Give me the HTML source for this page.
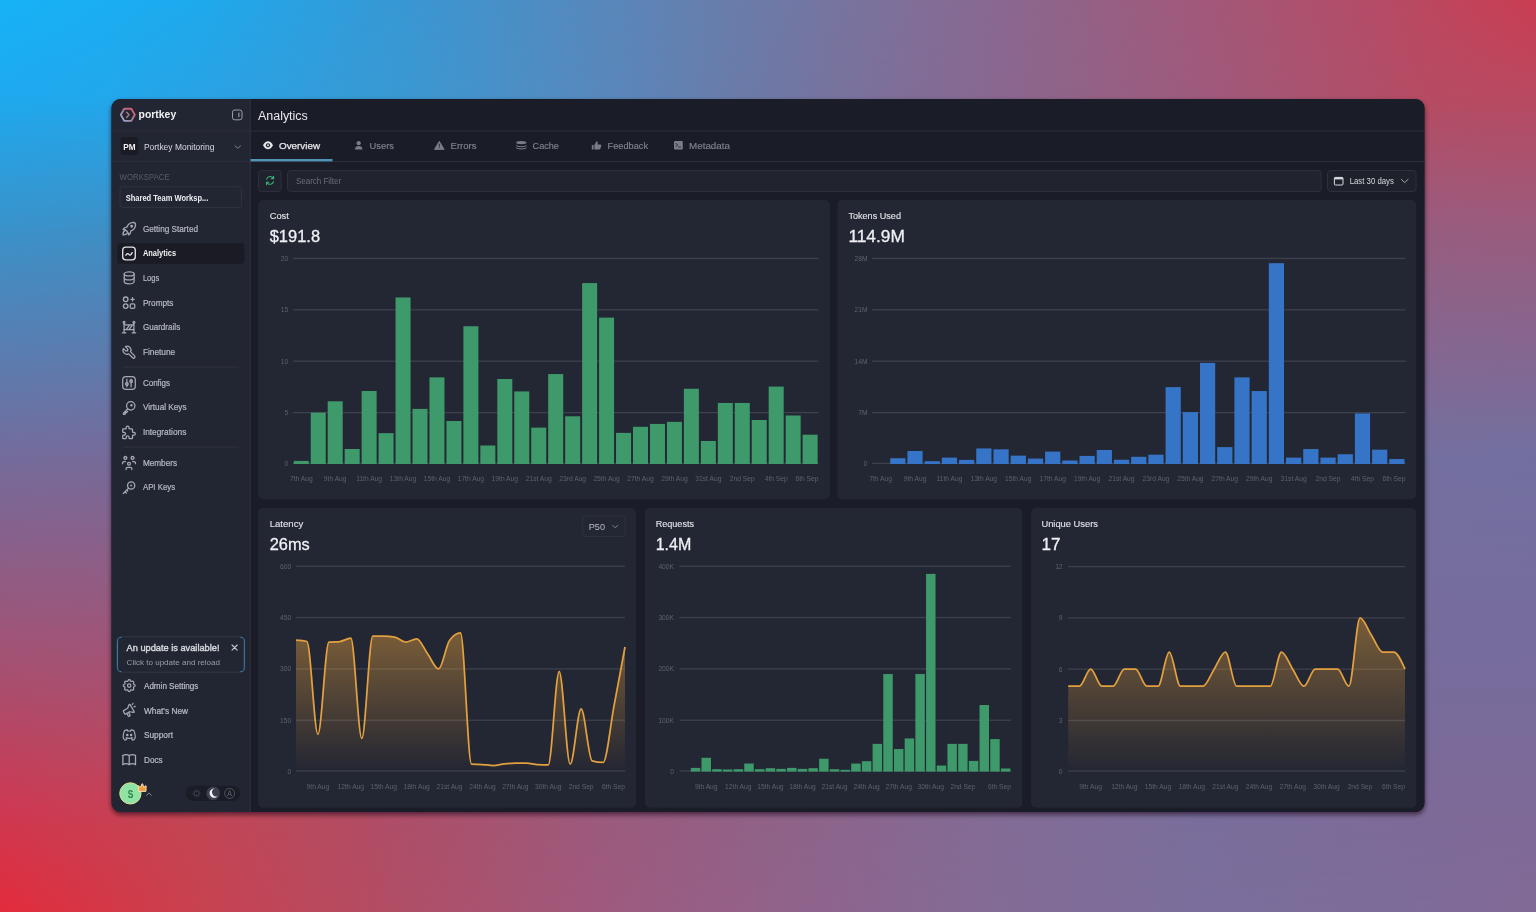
<!DOCTYPE html>
<html><head><meta charset="utf-8"><title>Portkey Analytics</title><style>html,body{margin:0;padding:0;width:1536px;height:912px;overflow:hidden;background:#1b1c26;}svg text{font-family:"Liberation Sans",sans-serif;}</style></head><body>
<svg width="1536" height="912" viewBox="0 0 1536 912" style="display:block;will-change:transform;font-family:'Liberation Sans', sans-serif"><defs><linearGradient id="bgr0" x1="0" y1="0" x2="1536" y2="0" gradientUnits="userSpaceOnUse"><stop offset="0.0000" stop-color="#17b3f6"/><stop offset="0.1302" stop-color="#1eaaee"/><stop offset="0.2604" stop-color="#3898d4"/><stop offset="0.3906" stop-color="#5888bc"/><stop offset="0.5000" stop-color="#6e7aa6"/><stop offset="0.5859" stop-color="#7f709a"/><stop offset="0.6510" stop-color="#8a6890"/><stop offset="0.7812" stop-color="#a2597a"/><stop offset="0.9115" stop-color="#b84a64"/><stop offset="1.0000" stop-color="#cb3d51"/></linearGradient><linearGradient id="bgr1" x1="0" y1="0" x2="1536" y2="0" gradientUnits="userSpaceOnUse"><stop offset="0.0000" stop-color="#1fa9ee"/><stop offset="0.0723" stop-color="#22a7ec"/><stop offset="0.2604" stop-color="#3a98d2"/><stop offset="0.3906" stop-color="#5888bc"/><stop offset="0.5000" stop-color="#6e78a4"/><stop offset="0.5859" stop-color="#7f6e98"/><stop offset="0.7812" stop-color="#9e5a7c"/><stop offset="0.9277" stop-color="#b64b63"/><stop offset="1.0000" stop-color="#b84a62"/></linearGradient><linearGradient id="bgm1" x1="0" y1="0" x2="0" y2="100" gradientUnits="userSpaceOnUse"><stop offset="0" stop-color="#000"/><stop offset="1" stop-color="#fff"/></linearGradient><mask id="bgmask1" maskUnits="userSpaceOnUse" x="0" y="0" width="1536" height="912"><rect x="0" y="0" width="1536" height="912" fill="url(#bgm1)"/></mask><linearGradient id="bgr2" x1="0" y1="0" x2="1536" y2="0" gradientUnits="userSpaceOnUse"><stop offset="0.0000" stop-color="#3a92ca"/><stop offset="0.0723" stop-color="#3e90c6"/><stop offset="0.5000" stop-color="#7e6a98"/><stop offset="0.9277" stop-color="#985d7f"/><stop offset="1.0000" stop-color="#9a5c7e"/></linearGradient><linearGradient id="bgm2" x1="0" y1="100" x2="0" y2="228" gradientUnits="userSpaceOnUse"><stop offset="0" stop-color="#000"/><stop offset="1" stop-color="#fff"/></linearGradient><mask id="bgmask2" maskUnits="userSpaceOnUse" x="0" y="0" width="1536" height="912"><rect x="0" y="0" width="1536" height="912" fill="url(#bgm2)"/></mask><linearGradient id="bgr3" x1="0" y1="0" x2="1536" y2="0" gradientUnits="userSpaceOnUse"><stop offset="0.0000" stop-color="#746c9c"/><stop offset="0.0723" stop-color="#766b9a"/><stop offset="0.5000" stop-color="#8a6490"/><stop offset="0.9277" stop-color="#7470a0"/><stop offset="1.0000" stop-color="#7270a0"/></linearGradient><linearGradient id="bgm3" x1="0" y1="228" x2="0" y2="456" gradientUnits="userSpaceOnUse"><stop offset="0" stop-color="#000"/><stop offset="1" stop-color="#fff"/></linearGradient><mask id="bgmask3" maskUnits="userSpaceOnUse" x="0" y="0" width="1536" height="912"><rect x="0" y="0" width="1536" height="912" fill="url(#bgm3)"/></mask><linearGradient id="bgr4" x1="0" y1="0" x2="1536" y2="0" gradientUnits="userSpaceOnUse"><stop offset="0.0000" stop-color="#aa4e6e"/><stop offset="0.0723" stop-color="#a85070"/><stop offset="0.5000" stop-color="#8e6088"/><stop offset="0.9277" stop-color="#786c9c"/><stop offset="1.0000" stop-color="#786c9c"/></linearGradient><linearGradient id="bgm4" x1="0" y1="456" x2="0" y2="684" gradientUnits="userSpaceOnUse"><stop offset="0" stop-color="#000"/><stop offset="1" stop-color="#fff"/></linearGradient><mask id="bgmask4" maskUnits="userSpaceOnUse" x="0" y="0" width="1536" height="912"><rect x="0" y="0" width="1536" height="912" fill="url(#bgm4)"/></mask><linearGradient id="bgr5" x1="0" y1="0" x2="1536" y2="0" gradientUnits="userSpaceOnUse"><stop offset="0.0000" stop-color="#cf3852"/><stop offset="0.1302" stop-color="#c24654"/><stop offset="0.2604" stop-color="#ae4e68"/><stop offset="0.3906" stop-color="#9c5a7c"/><stop offset="0.5000" stop-color="#906288"/><stop offset="0.6510" stop-color="#826c96"/><stop offset="0.7812" stop-color="#7a6e9c"/><stop offset="0.9277" stop-color="#7e6a98"/><stop offset="1.0000" stop-color="#7e6a98"/></linearGradient><linearGradient id="bgm5" x1="0" y1="684" x2="0" y2="812" gradientUnits="userSpaceOnUse"><stop offset="0" stop-color="#000"/><stop offset="1" stop-color="#fff"/></linearGradient><mask id="bgmask5" maskUnits="userSpaceOnUse" x="0" y="0" width="1536" height="912"><rect x="0" y="0" width="1536" height="912" fill="url(#bgm5)"/></mask><linearGradient id="bgr6" x1="0" y1="0" x2="1536" y2="0" gradientUnits="userSpaceOnUse"><stop offset="0.0000" stop-color="#e22c3b"/><stop offset="0.1302" stop-color="#c84250"/><stop offset="0.2604" stop-color="#b04e66"/><stop offset="0.3906" stop-color="#9e5a7e"/><stop offset="0.5000" stop-color="#92628a"/><stop offset="0.5859" stop-color="#886890"/><stop offset="0.6510" stop-color="#836c96"/><stop offset="0.7812" stop-color="#7b6e9c"/><stop offset="0.9115" stop-color="#7d6c9a"/><stop offset="1.0000" stop-color="#836a96"/></linearGradient><linearGradient id="bgm6" x1="0" y1="812" x2="0" y2="912" gradientUnits="userSpaceOnUse"><stop offset="0" stop-color="#000"/><stop offset="1" stop-color="#fff"/></linearGradient><mask id="bgmask6" maskUnits="userSpaceOnUse" x="0" y="0" width="1536" height="912"><rect x="0" y="0" width="1536" height="912" fill="url(#bgm6)"/></mask><filter id="shadow" x="-5%" y="-5%" width="110%" height="115%"><feDropShadow dx="0" dy="2.5" stdDeviation="2.6" flood-color="#0a0510" flood-opacity="0.62"/></filter><clipPath id="winclip"><rect x="111.5" y="99.0" width="1313.0" height="713.0" rx="9"/></clipPath><linearGradient id="logog" x1="0" y1="1" x2="1" y2="0"><stop offset="0" stop-color="#8fb0e0"/><stop offset="0.5" stop-color="#b07a98"/><stop offset="1" stop-color="#d8545e"/></linearGradient><linearGradient id="latg" x1="0" y1="0" x2="0" y2="1"><stop offset="0" stop-color="#e6a23e" stop-opacity="0.44"/><stop offset="1" stop-color="#e6a23e" stop-opacity="0"/></linearGradient><linearGradient id="usrg" x1="0" y1="0" x2="0" y2="1"><stop offset="0" stop-color="#e6a23e" stop-opacity="0.44"/><stop offset="1" stop-color="#e6a23e" stop-opacity="0"/></linearGradient></defs><rect x="0" y="0" width="1536" height="912" fill="url(#bgr0)"/>
<rect x="0" y="0" width="1536" height="912" fill="url(#bgr1)" mask="url(#bgmask1)"/>
<rect x="0" y="0" width="1536" height="912" fill="url(#bgr2)" mask="url(#bgmask2)"/>
<rect x="0" y="0" width="1536" height="912" fill="url(#bgr3)" mask="url(#bgmask3)"/>
<rect x="0" y="0" width="1536" height="912" fill="url(#bgr4)" mask="url(#bgmask4)"/>
<rect x="0" y="0" width="1536" height="912" fill="url(#bgr5)" mask="url(#bgmask5)"/>
<rect x="0" y="0" width="1536" height="912" fill="url(#bgr6)" mask="url(#bgmask6)"/>
<rect x="111.5" y="99.0" width="1313.0" height="713.0" rx="9" fill="#1b1c26" filter="url(#shadow)"/>
<g clip-path="url(#winclip)">
<rect x="111.5" y="99.0" width="138.5" height="713.0" fill="#222633"/>
<rect x="249.6" y="99.0" width="1.7" height="713.0" fill="#2a2d39"/>
<rect x="251" y="99.0" width="1173.5" height="713.0" fill="#1a1c27"/>
<rect x="111.5" y="130.5" width="1313.0" height="1" fill="#2c2f3b"/>
<rect x="111.5" y="161" width="1313.0" height="1" fill="#2c2f3b"/>
</g>
<polygon points="134.80,114.80 131.30,120.86 124.30,120.86 120.80,114.80 124.30,108.74 131.30,108.74" fill="none" stroke="url(#logog)" stroke-width="1.9" stroke-linejoin="round"/>
<path d="M126.6,112.2 L129.1,114.8 L126.6,117.4" fill="none" stroke="#a87488" stroke-width="1.5" stroke-linecap="round" stroke-linejoin="round"/>
<text x="138.60" y="118.20" font-size="10.80" fill="#f2f2f4" font-weight="bold" text-anchor="start" textLength="37.60" lengthAdjust="spacingAndGlyphs" >portkey</text>
<rect x="232.5" y="110" width="9.5" height="9.8" rx="2.2" fill="none" stroke="#9da0aa" stroke-width="1"/>
<rect x="238.3" y="112.6" width="1.1" height="4.6" fill="#9da0aa"/>
<text x="258.00" y="120.00" font-size="12.50" fill="#e8e9ec" font-weight="normal" text-anchor="start" textLength="49.80" lengthAdjust="spacingAndGlyphs" >Analytics</text>
<rect x="120.6" y="137" width="17.6" height="18" rx="3" fill="#1a1b24"/>
<text x="129.40" y="150.10" font-size="8.30" fill="#f0f0f2" font-weight="bold" text-anchor="middle" textLength="12.30" lengthAdjust="spacingAndGlyphs" >PM</text>
<text x="143.90" y="150.10" font-size="8.50" fill="#d8dae0" font-weight="normal" text-anchor="start" textLength="70.50" lengthAdjust="spacingAndGlyphs" >Portkey Monitoring</text>
<path d="M234.8,145.6 L237.8,148.3 L240.8,145.6" fill="none" stroke="#8d909a" stroke-width="0.9"/>
<text x="119.60" y="180.30" font-size="8.60" fill="#585c68" font-weight="normal" text-anchor="start" textLength="50.10" lengthAdjust="spacingAndGlyphs" >WORKSPACE</text>
<rect x="120" y="186.8" width="121.5" height="20.6" rx="2.5" fill="none" stroke="#30333f" stroke-width="1"/>
<text x="125.70" y="200.80" font-size="8.60" fill="#eceef2" font-weight="bold" text-anchor="start" textLength="82.60" lengthAdjust="spacingAndGlyphs" >Shared Team Worksp...</text>
<rect x="117.2" y="243" width="127.3" height="20.7" rx="3" fill="#1a1b25"/>
<text x="142.90" y="231.50" font-size="8.70" fill="#b4b7bf" font-weight="normal" text-anchor="start" textLength="55.10" lengthAdjust="spacingAndGlyphs" stroke="#b4b7bf" stroke-width="0.22">Getting Started</text>
<text x="142.90" y="256.20" font-size="8.70" fill="#f2f3f5" font-weight="bold" text-anchor="start" textLength="33.20" lengthAdjust="spacingAndGlyphs" >Analytics</text>
<text x="142.90" y="280.90" font-size="8.70" fill="#b4b7bf" font-weight="normal" text-anchor="start" textLength="16.30" lengthAdjust="spacingAndGlyphs" stroke="#b4b7bf" stroke-width="0.22">Logs</text>
<text x="142.90" y="305.60" font-size="8.70" fill="#b4b7bf" font-weight="normal" text-anchor="start" textLength="30.60" lengthAdjust="spacingAndGlyphs" stroke="#b4b7bf" stroke-width="0.22">Prompts</text>
<text x="142.90" y="330.20" font-size="8.70" fill="#b4b7bf" font-weight="normal" text-anchor="start" textLength="37.30" lengthAdjust="spacingAndGlyphs" stroke="#b4b7bf" stroke-width="0.22">Guardrails</text>
<text x="142.90" y="354.80" font-size="8.70" fill="#b4b7bf" font-weight="normal" text-anchor="start" textLength="32.20" lengthAdjust="spacingAndGlyphs" stroke="#b4b7bf" stroke-width="0.22">Finetune</text>
<text x="142.90" y="385.70" font-size="8.70" fill="#b4b7bf" font-weight="normal" text-anchor="start" textLength="27.20" lengthAdjust="spacingAndGlyphs" stroke="#b4b7bf" stroke-width="0.22">Configs</text>
<text x="142.90" y="410.30" font-size="8.70" fill="#b4b7bf" font-weight="normal" text-anchor="start" textLength="43.70" lengthAdjust="spacingAndGlyphs" stroke="#b4b7bf" stroke-width="0.22">Virtual Keys</text>
<text x="142.90" y="435.00" font-size="8.70" fill="#b4b7bf" font-weight="normal" text-anchor="start" textLength="43.40" lengthAdjust="spacingAndGlyphs" stroke="#b4b7bf" stroke-width="0.22">Integrations</text>
<text x="142.90" y="465.60" font-size="8.70" fill="#b4b7bf" font-weight="normal" text-anchor="start" textLength="34.20" lengthAdjust="spacingAndGlyphs" stroke="#b4b7bf" stroke-width="0.22">Members</text>
<text x="142.90" y="490.30" font-size="8.70" fill="#b4b7bf" font-weight="normal" text-anchor="start" textLength="32.30" lengthAdjust="spacingAndGlyphs" stroke="#b4b7bf" stroke-width="0.22">API Keys</text>
<rect x="122.7" y="366.5" width="116.2" height="1" fill="#30333e"/>
<rect x="122.7" y="446.5" width="116.2" height="1" fill="#30333e"/>
<g transform="translate(129.30,228.60) rotate(0.0) scale(0.780) translate(-12,-12)" fill="none" stroke="#a6a9b2" stroke-width="1.70" stroke-linecap="round" stroke-linejoin="round"><path d="M4 13a8 8 0 0 1 7 7a6 6 0 0 0 3 -5a9 9 0 0 0 6 -8a3 3 0 0 0 -3 -3a9 9 0 0 0 -8 6a6 6 0 0 0 -5 3"/><path d="M7 14a6 6 0 0 0 -3 6a6 6 0 0 0 6 -3"/><circle cx="15" cy="9" r="1"/></g>
<g transform="translate(129.00,253.50) rotate(0.0) scale(0.700) translate(-12,-12)" fill="none" stroke="#e2e3e7" stroke-width="1.90" stroke-linecap="round" stroke-linejoin="round"><rect x="3" y="3" width="18" height="18" rx="4.5"/><path d="M7.5 14.5c1.6 -3 3 -3 4.4 -1.2c1.4 1.8 2.6 1.4 4.6 -2.6"/></g>
<g transform="translate(129.20,277.90) rotate(0.0) scale(0.660) translate(-12,-12)" fill="none" stroke="#a6a9b2" stroke-width="1.90" stroke-linecap="round" stroke-linejoin="round"><ellipse cx="12" cy="6" rx="7.5" ry="3"/><path d="M4.5 6v6a7.5 3 0 0 0 15 0v-6"/><path d="M4.5 12v6a7.5 3 0 0 0 15 0v-6"/></g>
<g transform="translate(129.10,302.70) rotate(0.0) scale(0.680) translate(-12,-12)" fill="none" stroke="#a6a9b2" stroke-width="1.90" stroke-linecap="round" stroke-linejoin="round"><circle cx="7" cy="7" r="3.4"/><circle cx="7" cy="17" r="3.4"/><rect x="13.6" y="13.6" width="6.8" height="6.8" rx="2"/><path d="M17 4.6v4.8M14.6 7h4.8"/></g>
<g transform="translate(129.00,327.60) rotate(0.0) scale(0.700) translate(-12,-12)" fill="none" stroke="#a6a9b2" stroke-width="1.80" stroke-linecap="round" stroke-linejoin="round"><path d="M5 5.5v14M19 5.5v14M2.5 19.5h5M16.5 19.5h5"/><circle cx="5" cy="4.5" r="1.3"/><circle cx="19" cy="4.5" r="1.3"/><path d="M5 8h14M5 15h14M8 15l5 -7M12 15l5 -7"/></g>
<g transform="translate(129.00,352.20) rotate(0.0) scale(0.660) translate(-12,-12)" fill="none" stroke="#a6a9b2" stroke-width="1.90" stroke-linecap="round" stroke-linejoin="round"><path d="M7 10h3v-3l-3.5 -3.5a6 6 0 0 1 8 8l6 6a2 2 0 0 1 -3 3l-6 -6a6 6 0 0 1 -8 -8l3.5 3.5"/></g>
<g transform="translate(129.00,383.00) rotate(0.0) scale(0.700) translate(-12,-12)" fill="none" stroke="#a6a9b2" stroke-width="1.80" stroke-linecap="round" stroke-linejoin="round"><rect x="3" y="3" width="18" height="18" rx="4.5"/><path d="M9 6.5v11M15 6.5v11"/><circle cx="9" cy="13.5" r="1.9"/><circle cx="15" cy="9.5" r="1.9"/></g>
<g transform="translate(129.00,407.60) rotate(0.0) scale(0.700) translate(-12,-12)" fill="none" stroke="#a6a9b2" stroke-width="1.80" stroke-linecap="round" stroke-linejoin="round"><circle cx="14.5" cy="9.5" r="6"/><circle cx="15.5" cy="8.5" r="0.9"/><path d="M10.3 13.7l-6.3 6.3v1.5h2l1 -1v-1.5h1.5l1.5 -1.5"/></g>
<g transform="translate(129.00,432.40) rotate(0.0) scale(0.700) translate(-12,-12)" fill="none" stroke="#a6a9b2" stroke-width="1.80" stroke-linecap="round" stroke-linejoin="round"><path d="M4 7h3a1 1 0 0 0 1 -1v-1a2 2 0 0 1 4 0v1a1 1 0 0 0 1 1h3a1 1 0 0 1 1 1v3a1 1 0 0 0 1 1h1a2 2 0 0 1 0 4h-1a1 1 0 0 0 -1 1v3a1 1 0 0 1 -1 1h-3a1 1 0 0 1 -1 -1v-1a2 2 0 0 0 -4 0v1a1 1 0 0 1 -1 1h-3a1 1 0 0 1 -1 -1v-3a1 1 0 0 1 1 -1h1a2 2 0 0 0 0 -4h-1a1 1 0 0 1 -1 -1v-3a1 1 0 0 1 1 -1"/></g>
<g transform="translate(129.00,463.00) rotate(0.0) scale(0.720) translate(-12,-12)" fill="none" stroke="#a6a9b2" stroke-width="1.80" stroke-linecap="round" stroke-linejoin="round"><path d="M10 13a2 2 0 1 0 4 0a2 2 0 0 0 -4 0"/><path d="M8 21v-1a2 2 0 0 1 2 -2h4a2 2 0 0 1 2 2v1"/><path d="M15 5a2 2 0 1 0 4 0a2 2 0 0 0 -4 0"/><path d="M17 10h2a2 2 0 0 1 2 2v1"/><path d="M5 5a2 2 0 1 0 4 0a2 2 0 0 0 -4 0"/><path d="M3 13v-1a2 2 0 0 1 2 -2h2"/></g>
<g transform="translate(129.00,487.70) rotate(0.0) scale(0.720) translate(-12,-12)" fill="none" stroke="#a6a9b2" stroke-width="1.80" stroke-linecap="round" stroke-linejoin="round"><circle cx="15" cy="9" r="5"/><circle cx="15" cy="9" r="0.6"/><path d="M11.4 12.6l-7.4 7.4M6.5 17.5l1.8 1.8M8.8 15.2l1.4 1.4"/></g>
<rect x="117" y="636.8" width="127.8" height="35.4" rx="4.5" fill="none" stroke="#343846" stroke-width="1"/>
<path d="M121.5,637.3 C118.5,637.3 117.5,639 117.5,641.5 V667.5 C117.5,670 118.5,671.7 121.5,671.7" fill="none" stroke="#3b7ea3" stroke-width="1"/>
<path d="M240.3,637.3 C243.3,637.3 244.3,639 244.3,641.5 V667.5 C244.3,670 243.3,671.7 240.3,671.7" fill="none" stroke="#3b7ea3" stroke-width="1"/>
<text x="126.60" y="650.80" font-size="9.60" fill="#d6d8de" font-weight="normal" text-anchor="start" textLength="92.90" lengthAdjust="spacingAndGlyphs" stroke="#d6d8de" stroke-width="0.4">An update is available!</text>
<text x="126.60" y="664.60" font-size="8.00" fill="#9a9da6" font-weight="normal" text-anchor="start" textLength="93.40" lengthAdjust="spacingAndGlyphs" >Click to update and reload</text>
<path d="M232,645 L237.2,650.2 M237.2,645 L232,650.2" stroke="#c8cad0" stroke-width="1.1" stroke-linecap="round"/>
<text x="144.00" y="688.90" font-size="8.70" fill="#b8bbc3" font-weight="normal" text-anchor="start" textLength="54.30" lengthAdjust="spacingAndGlyphs" stroke="#b8bbc3" stroke-width="0.22">Admin Settings</text>
<text x="144.00" y="713.60" font-size="8.70" fill="#b8bbc3" font-weight="normal" text-anchor="start" textLength="44.00" lengthAdjust="spacingAndGlyphs" stroke="#b8bbc3" stroke-width="0.22">What's New</text>
<text x="144.00" y="738.30" font-size="8.70" fill="#b8bbc3" font-weight="normal" text-anchor="start" textLength="29.00" lengthAdjust="spacingAndGlyphs" stroke="#b8bbc3" stroke-width="0.22">Support</text>
<text x="144.00" y="763.00" font-size="8.70" fill="#b8bbc3" font-weight="normal" text-anchor="start" textLength="18.60" lengthAdjust="spacingAndGlyphs" stroke="#b8bbc3" stroke-width="0.22">Docs</text>
<g transform="translate(129.20,685.60) rotate(0.0) scale(0.660) translate(-12,-12)" fill="none" stroke="#a6a9b2" stroke-width="1.90" stroke-linecap="round" stroke-linejoin="round"><path d="M10.325 4.317c.426 -1.756 2.924 -1.756 3.35 0a1.724 1.724 0 0 0 2.573 1.066c1.543 -.94 3.31 .826 2.37 2.37a1.724 1.724 0 0 0 1.065 2.572c1.756 .426 1.756 2.924 0 3.35a1.724 1.724 0 0 0 -1.066 2.573c.94 1.543 -.826 3.31 -2.37 2.37a1.724 1.724 0 0 0 -2.572 1.065c-.426 1.756 -2.924 1.756 -3.35 0a1.724 1.724 0 0 0 -2.573 -1.066c-1.543 .94 -3.31 -.826 -2.37 -2.37a1.724 1.724 0 0 0 -1.065 -2.572c-1.756 -.426 -1.756 -2.924 0 -3.35a1.724 1.724 0 0 0 1.066 -2.573c-.94 -1.543 .826 -3.31 2.37 -2.37c1 .608 2.296 .07 2.572 -1.065z"/><circle cx="12" cy="12" r="2.6"/></g>
<g transform="translate(129.00,710.60) rotate(-30.0) scale(0.660) translate(-12,-12)" fill="none" stroke="#a6a9b2" stroke-width="1.90" stroke-linecap="round" stroke-linejoin="round"><path d="M12 8l4.524 -3.77a.9 .9 0 0 1 1.476 .692v12.156a.9 .9 0 0 1 -1.476 .692l-4.524 -3.77h-7a1 1 0 0 1 -1 -1v-4a1 1 0 0 1 1 -1h7z"/><path d="M10 14v4.5a1 1 0 0 1 -1 1h-1a1 1 0 0 1 -1 -1v-4.5"/><path d="M21 6.5l1.5 -1M21.5 11h2"/></g>
<g transform="translate(129.20,735.00) rotate(0.0) scale(0.640) translate(-12,-12)" fill="none" stroke="#a6a9b2" stroke-width="1.90" stroke-linecap="round" stroke-linejoin="round"><path d="M8 12a1 1 0 1 0 2 0a1 1 0 0 0 -2 0" fill="#a6a9b2"/><path d="M14 12a1 1 0 1 0 2 0a1 1 0 0 0 -2 0" fill="#a6a9b2"/><path d="M15.5 17c0 1 1.5 3 2 3c1.5 0 2.833 -1.667 3.5 -3c.667 -1.667 .5 -5.833 -1.5 -11.5c-1.457 -1.015 -3 -1.34 -4.5 -1.5l-.972 1.923a11.913 11.913 0 0 0 -4.053 0l-.975 -1.923c-1.5 .16 -3.043 .485 -4.5 1.5c-2 5.667 -2.167 9.833 -1.5 11.5c.667 1.333 2 3 3.5 3c.5 0 2 -2 2 -3"/><path d="M7 16.5c3.5 1 6.5 1 10 0"/></g>
<g transform="translate(129.20,759.70) rotate(0.0) scale(0.700) translate(-12,-12)" fill="none" stroke="#a6a9b2" stroke-width="1.80" stroke-linecap="round" stroke-linejoin="round"><path d="M3 19a9 9 0 0 1 9 0a9 9 0 0 1 9 0"/><path d="M3 6a9 9 0 0 1 9 0a9 9 0 0 1 9 0"/><path d="M3 6v13M12 6v13M21 6v13"/></g>
<circle cx="130.4" cy="793.4" r="11.4" fill="#15161e"/><circle cx="130.4" cy="793.4" r="10.7" fill="#8fe3a4" stroke="#e8dc98" stroke-width="0.9"/>
<text x="130.50" y="797.60" font-size="10.40" fill="#2a7f45" font-weight="bold" text-anchor="middle" textLength="5.60" lengthAdjust="spacingAndGlyphs" >S</text>
<path d="M138.6,791.4 L138.3,786.2 Q138.3,785.4 139,785.9 L140.6,787.3 L141.9,783.9 Q142.2,783.2 142.6,783.9 L143.9,787.3 L145.5,785.9 Q146.2,785.4 146.2,786.2 L145.9,791.4 Z" fill="#f09a3a" stroke="#fbe6c4" stroke-width="0.9" stroke-linejoin="round"/>
<path d="M146.4,795.6 L149,792.9 L151.6,795.6" fill="none" stroke="#8d909a" stroke-width="0.9"/>
<rect x="185.6" y="785.8" width="54.8" height="15.2" rx="7.6" fill="#1b1d26"/>
<circle cx="196.6" cy="793.4" r="2.6" fill="none" stroke="#50545e" stroke-width="0.8"/>
<path d="M200.40,793.40 L201.20,793.40" stroke="#454852" stroke-width="0.6"/>
<path d="M199.29,796.09 L199.85,796.65" stroke="#454852" stroke-width="0.6"/>
<path d="M196.60,797.20 L196.60,798.00" stroke="#454852" stroke-width="0.6"/>
<path d="M193.91,796.09 L193.35,796.65" stroke="#454852" stroke-width="0.6"/>
<path d="M192.80,793.40 L192.00,793.40" stroke="#454852" stroke-width="0.6"/>
<path d="M193.91,790.71 L193.35,790.15" stroke="#454852" stroke-width="0.6"/>
<path d="M196.60,789.60 L196.60,788.80" stroke="#454852" stroke-width="0.6"/>
<path d="M199.29,790.71 L199.85,790.15" stroke="#454852" stroke-width="0.6"/>
<circle cx="213.2" cy="793.4" r="6.8" fill="#3b3f4e"/>
<path d="M214.5,788.6 A4.6,4.6 0 1 0 217.8,796 A3.8,3.8 0 0 1 214.5,788.6 Z" fill="#f4f4f6"/>
<circle cx="229.6" cy="793.4" r="5" fill="none" stroke="#5c606a" stroke-width="0.8"/>
<path d="M227.6,796 L229.6,790.6 L231.6,796 M228.3,794.4 H230.9" fill="none" stroke="#5c606a" stroke-width="0.8"/>
<rect x="250.5" y="159" width="82" height="2.4" fill="#4f93b5"/>
<text x="279.00" y="148.90" font-size="9.60" fill="#e6e7ea" font-weight="normal" text-anchor="start" textLength="41.00" lengthAdjust="spacingAndGlyphs" stroke="#e6e7ea" stroke-width="0.25">Overview</text>
<text x="369.60" y="148.90" font-size="9.60" fill="#80838d" font-weight="normal" text-anchor="start" textLength="24.40" lengthAdjust="spacingAndGlyphs" stroke="#80838d" stroke-width="0.15">Users</text>
<text x="450.50" y="148.90" font-size="9.60" fill="#80838d" font-weight="normal" text-anchor="start" textLength="26.10" lengthAdjust="spacingAndGlyphs" stroke="#80838d" stroke-width="0.15">Errors</text>
<text x="532.60" y="148.90" font-size="9.60" fill="#80838d" font-weight="normal" text-anchor="start" textLength="26.30" lengthAdjust="spacingAndGlyphs" stroke="#80838d" stroke-width="0.15">Cache</text>
<text x="607.60" y="148.90" font-size="9.60" fill="#80838d" font-weight="normal" text-anchor="start" textLength="40.40" lengthAdjust="spacingAndGlyphs" stroke="#80838d" stroke-width="0.15">Feedback</text>
<text x="689.00" y="148.90" font-size="9.60" fill="#80838d" font-weight="normal" text-anchor="start" textLength="41.00" lengthAdjust="spacingAndGlyphs" stroke="#80838d" stroke-width="0.15">Metadata</text>
<path d="M263,145.3 C264.8,142 266.4,141.3 268,141.3 C269.6,141.3 271.2,142 273,145.3 C271.2,148.6 269.6,149.3 268,149.3 C266.4,149.3 264.8,148.6 263,145.3 Z" fill="#e6e7ea"/><circle cx="268" cy="145.3" r="2.1" fill="#1b1c26"/><circle cx="268" cy="145.3" r="1.0" fill="#e6e7ea"/>
<circle cx="358.7" cy="143.2" r="2.1" fill="#7a7d87"/><path d="M355,149.5 C355,146.8 356.4,146 358.7,146 C361,146 362.4,146.8 362.4,149.5 Z" fill="#7a7d87"/>
<path d="M439.3,141.2 L444.2,149.4 H434.4 Z" fill="#7a7d87" stroke="#7a7d87" stroke-width="0.8" stroke-linejoin="round"/><rect x="438.9" y="143.8" width="0.8" height="2.9" fill="#1b1c26"/><rect x="438.9" y="147.4" width="0.8" height="0.8" fill="#1b1c26"/>
<ellipse cx="521.3" cy="142.6" rx="5.2" ry="1.7" fill="#7a7d87"/><path d="M516.1,144.6 C516.1,145.6 518.4,146.3 521.3,146.3 C524.2,146.3 526.5,145.6 526.5,144.6 V145.6 C526.5,146.6 524.2,147.3 521.3,147.3 C518.4,147.3 516.1,146.6 516.1,145.6 Z" fill="#7a7d87"/><path d="M516.1,146.8 C516.1,147.8 518.4,148.5 521.3,148.5 C524.2,148.5 526.5,147.8 526.5,146.8 V147.8 C526.5,148.8 524.2,149.5 521.3,149.5 C518.4,149.5 516.1,148.8 516.1,147.8 Z" fill="#7a7d87"/>
<path d="M591.8,145 H593.6 V149.6 H591.8 Z M594.4,145 L596.6,141.2 C597.6,141.2 598,142 597.8,143 L597.4,144.6 H600.4 C601.2,144.6 601.4,145.4 601.2,146 L600.2,149 C600,149.4 599.6,149.6 599.2,149.6 H594.4 Z" fill="#7a7d87"/>
<rect x="674" y="141" width="8.8" height="8.4" rx="1" fill="#7a7d87"/><path d="M675.8,143.2 L677.6,145 L675.8,146.8" fill="none" stroke="#1b1c26" stroke-width="0.9"/><rect x="678.2" y="146.6" width="2.6" height="0.8" fill="#1b1c26"/>
<rect x="258.5" y="170.5" width="22.6" height="21" rx="3" fill="#20222d" stroke="#2d303c" stroke-width="1"/>
<g fill="none" stroke="#3ab07a" stroke-width="1.1" stroke-linecap="round"><path d="M266.6,179.2 A3.7,3.7 0 0 1 273.4,178.4"/><path d="M273.6,181.6 A3.7,3.7 0 0 1 266.8,182.4"/><path d="M273.6,176.2 V178.6 H271.4"/><path d="M266.6,184.6 V182.2 H268.8"/></g>
<rect x="287.5" y="170.5" width="1033.6" height="21" rx="3" fill="#21242f" stroke="#2d303c" stroke-width="1"/>
<text x="296.00" y="184.30" font-size="8.60" fill="#6a6e79" font-weight="normal" text-anchor="start" textLength="45.10" lengthAdjust="spacingAndGlyphs" >Search Filter</text>
<rect x="1327.5" y="170.5" width="88.6" height="21" rx="3" fill="#1f212b" stroke="#2d303c" stroke-width="1"/>
<rect x="1334.4" y="177.4" width="8.6" height="7.6" rx="1" fill="none" stroke="#d8dae0" stroke-width="1"/><rect x="1334.4" y="177.4" width="8.6" height="2" fill="#d8dae0"/>
<text x="1349.70" y="184.20" font-size="8.60" fill="#d8dae0" font-weight="normal" text-anchor="start" textLength="44.20" lengthAdjust="spacingAndGlyphs" >Last 30 days</text>
<path d="M1401,179 L1404.7,182.6 L1408.4,179" fill="none" stroke="#a0a3ac" stroke-width="1"/>
<rect x="258.0" y="200.0" width="572.0" height="299.5" rx="5" fill="#232633"/>
<rect x="837.3" y="200.0" width="579.0" height="299.5" rx="5" fill="#232633"/>
<rect x="258.0" y="507.8" width="378.0" height="300.0" rx="5" fill="#232633"/>
<rect x="645.0" y="507.8" width="377.3" height="300.0" rx="5" fill="#232633"/>
<rect x="1031.0" y="507.8" width="385.3" height="300.0" rx="5" fill="#232633"/>
<text x="269.70" y="219.00" font-size="9.30" fill="#e2e4e9" font-weight="normal" text-anchor="start" textLength="19.20" lengthAdjust="spacingAndGlyphs" stroke="#e2e4e9" stroke-width="0.12">Cost</text>
<text x="269.70" y="242.20" font-size="17.00" fill="#eef0f3" font-weight="normal" text-anchor="start" textLength="50.40" lengthAdjust="spacingAndGlyphs" stroke="#eef0f3" stroke-width="0.3">$191.8</text>
<text x="848.40" y="219.00" font-size="9.30" fill="#e2e4e9" font-weight="normal" text-anchor="start" textLength="52.60" lengthAdjust="spacingAndGlyphs" stroke="#e2e4e9" stroke-width="0.12">Tokens Used</text>
<text x="848.40" y="242.20" font-size="17.00" fill="#eef0f3" font-weight="normal" text-anchor="start" textLength="56.50" lengthAdjust="spacingAndGlyphs" stroke="#eef0f3" stroke-width="0.3">114.9M</text>
<text x="269.70" y="526.80" font-size="9.30" fill="#e2e4e9" font-weight="normal" text-anchor="start" textLength="33.60" lengthAdjust="spacingAndGlyphs" stroke="#e2e4e9" stroke-width="0.12">Latency</text>
<text x="269.70" y="550.00" font-size="17.00" fill="#eef0f3" font-weight="normal" text-anchor="start" textLength="40.00" lengthAdjust="spacingAndGlyphs" stroke="#eef0f3" stroke-width="0.3">26ms</text>
<text x="655.70" y="526.80" font-size="9.30" fill="#e2e4e9" font-weight="normal" text-anchor="start" textLength="38.30" lengthAdjust="spacingAndGlyphs" stroke="#e2e4e9" stroke-width="0.12">Requests</text>
<text x="655.70" y="550.00" font-size="17.00" fill="#eef0f3" font-weight="normal" text-anchor="start" textLength="35.60" lengthAdjust="spacingAndGlyphs" stroke="#eef0f3" stroke-width="0.3">1.4M</text>
<text x="1041.40" y="526.80" font-size="9.30" fill="#e2e4e9" font-weight="normal" text-anchor="start" textLength="56.60" lengthAdjust="spacingAndGlyphs" stroke="#e2e4e9" stroke-width="0.12">Unique Users</text>
<text x="1041.40" y="550.00" font-size="17.00" fill="#eef0f3" font-weight="normal" text-anchor="start" textLength="19.00" lengthAdjust="spacingAndGlyphs" stroke="#eef0f3" stroke-width="0.3">17</text>
<rect x="582.8" y="516" width="42.4" height="20.6" rx="3" fill="none" stroke="#30333f" stroke-width="1"/>
<text x="588.70" y="529.70" font-size="8.90" fill="#b8bbc3" font-weight="normal" text-anchor="start" textLength="16.30" lengthAdjust="spacingAndGlyphs" >P50</text>
<path d="M612.6,525.2 L615.2,527.8 L617.8,525.2" fill="none" stroke="#8d909a" stroke-width="0.9"/>
<rect x="293.00" y="257.75" width="525.50" height="1.3" fill="#3d414d"/>
<text x="288.30" y="260.80" font-size="6.70" fill="#5e626d" font-weight="normal" text-anchor="end" >20</text>
<rect x="293.00" y="309.15" width="525.50" height="1.3" fill="#3d414d"/>
<text x="288.30" y="312.20" font-size="6.70" fill="#5e626d" font-weight="normal" text-anchor="end" >15</text>
<rect x="293.00" y="360.55" width="525.50" height="1.3" fill="#3d414d"/>
<text x="288.30" y="363.60" font-size="6.70" fill="#5e626d" font-weight="normal" text-anchor="end" >10</text>
<rect x="293.00" y="411.95" width="525.50" height="1.3" fill="#3d414d"/>
<text x="288.30" y="415.00" font-size="6.70" fill="#5e626d" font-weight="normal" text-anchor="end" >5</text>
<rect x="293.00" y="462.70" width="525.50" height="1.3" fill="#3d414d"/>
<text x="288.30" y="466.40" font-size="6.70" fill="#5e626d" font-weight="normal" text-anchor="end" >0</text>
<rect x="293.78" y="460.92" width="15.01" height="3.08" fill="#3f9a6b"/>
<rect x="310.74" y="412.60" width="15.01" height="51.40" fill="#3f9a6b"/>
<rect x="327.70" y="401.29" width="15.01" height="62.71" fill="#3f9a6b"/>
<rect x="344.66" y="448.99" width="15.01" height="15.01" fill="#3f9a6b"/>
<rect x="361.62" y="391.01" width="15.01" height="72.99" fill="#3f9a6b"/>
<rect x="378.58" y="433.16" width="15.01" height="30.84" fill="#3f9a6b"/>
<rect x="395.54" y="297.46" width="15.01" height="166.54" fill="#3f9a6b"/>
<rect x="412.50" y="408.90" width="15.01" height="55.10" fill="#3f9a6b"/>
<rect x="429.47" y="377.34" width="15.01" height="86.66" fill="#3f9a6b"/>
<rect x="446.43" y="421.03" width="15.01" height="42.97" fill="#3f9a6b"/>
<rect x="463.39" y="326.25" width="15.01" height="137.75" fill="#3f9a6b"/>
<rect x="480.35" y="445.50" width="15.01" height="18.50" fill="#3f9a6b"/>
<rect x="497.31" y="378.98" width="15.01" height="85.02" fill="#3f9a6b"/>
<rect x="514.27" y="391.42" width="15.01" height="72.58" fill="#3f9a6b"/>
<rect x="531.23" y="427.61" width="15.01" height="36.39" fill="#3f9a6b"/>
<rect x="548.19" y="374.05" width="15.01" height="89.95" fill="#3f9a6b"/>
<rect x="565.16" y="416.30" width="15.01" height="47.70" fill="#3f9a6b"/>
<rect x="582.12" y="283.07" width="15.01" height="180.93" fill="#3f9a6b"/>
<rect x="599.08" y="317.61" width="15.01" height="146.39" fill="#3f9a6b"/>
<rect x="616.04" y="432.85" width="15.01" height="31.15" fill="#3f9a6b"/>
<rect x="633.00" y="426.79" width="15.01" height="37.21" fill="#3f9a6b"/>
<rect x="649.96" y="423.91" width="15.01" height="40.09" fill="#3f9a6b"/>
<rect x="666.92" y="421.85" width="15.01" height="42.15" fill="#3f9a6b"/>
<rect x="683.88" y="388.75" width="15.01" height="75.25" fill="#3f9a6b"/>
<rect x="700.85" y="440.97" width="15.01" height="23.03" fill="#3f9a6b"/>
<rect x="717.81" y="402.94" width="15.01" height="61.06" fill="#3f9a6b"/>
<rect x="734.77" y="402.94" width="15.01" height="61.06" fill="#3f9a6b"/>
<rect x="751.73" y="420.00" width="15.01" height="44.00" fill="#3f9a6b"/>
<rect x="768.69" y="386.59" width="15.01" height="77.41" fill="#3f9a6b"/>
<rect x="785.65" y="415.48" width="15.01" height="48.52" fill="#3f9a6b"/>
<rect x="802.61" y="434.70" width="15.01" height="29.30" fill="#3f9a6b"/>
<text x="301.28" y="481.00" font-size="6.70" fill="#5e626d" font-weight="normal" text-anchor="middle" >7th Aug</text>
<text x="335.20" y="481.00" font-size="6.70" fill="#5e626d" font-weight="normal" text-anchor="middle" >9th Aug</text>
<text x="369.13" y="481.00" font-size="6.70" fill="#5e626d" font-weight="normal" text-anchor="middle" >11th Aug</text>
<text x="403.05" y="481.00" font-size="6.70" fill="#5e626d" font-weight="normal" text-anchor="middle" >13th Aug</text>
<text x="436.97" y="481.00" font-size="6.70" fill="#5e626d" font-weight="normal" text-anchor="middle" >15th Aug</text>
<text x="470.89" y="481.00" font-size="6.70" fill="#5e626d" font-weight="normal" text-anchor="middle" >17th Aug</text>
<text x="504.82" y="481.00" font-size="6.70" fill="#5e626d" font-weight="normal" text-anchor="middle" >19th Aug</text>
<text x="538.74" y="481.00" font-size="6.70" fill="#5e626d" font-weight="normal" text-anchor="middle" >21st Aug</text>
<text x="572.66" y="481.00" font-size="6.70" fill="#5e626d" font-weight="normal" text-anchor="middle" >23rd Aug</text>
<text x="606.58" y="481.00" font-size="6.70" fill="#5e626d" font-weight="normal" text-anchor="middle" >25th Aug</text>
<text x="640.51" y="481.00" font-size="6.70" fill="#5e626d" font-weight="normal" text-anchor="middle" >27th Aug</text>
<text x="674.43" y="481.00" font-size="6.70" fill="#5e626d" font-weight="normal" text-anchor="middle" >29th Aug</text>
<text x="708.35" y="481.00" font-size="6.70" fill="#5e626d" font-weight="normal" text-anchor="middle" >31st Aug</text>
<text x="742.27" y="481.00" font-size="6.70" fill="#5e626d" font-weight="normal" text-anchor="middle" >2nd Sep</text>
<text x="776.20" y="481.00" font-size="6.70" fill="#5e626d" font-weight="normal" text-anchor="middle" >4th Sep</text>
<text x="818.50" y="481.00" font-size="6.70" fill="#5e626d" font-weight="normal" text-anchor="end" >6th Sep</text>
<rect x="872.00" y="257.75" width="533.50" height="1.3" fill="#3d414d"/>
<text x="867.50" y="260.80" font-size="6.70" fill="#5e626d" font-weight="normal" text-anchor="end" >28M</text>
<rect x="872.00" y="309.15" width="533.50" height="1.3" fill="#3d414d"/>
<text x="867.50" y="312.20" font-size="6.70" fill="#5e626d" font-weight="normal" text-anchor="end" >21M</text>
<rect x="872.00" y="360.55" width="533.50" height="1.3" fill="#3d414d"/>
<text x="867.50" y="363.60" font-size="6.70" fill="#5e626d" font-weight="normal" text-anchor="end" >14M</text>
<rect x="872.00" y="411.95" width="533.50" height="1.3" fill="#3d414d"/>
<text x="867.50" y="415.00" font-size="6.70" fill="#5e626d" font-weight="normal" text-anchor="end" >7M</text>
<rect x="872.00" y="462.70" width="533.50" height="1.3" fill="#3d414d"/>
<text x="867.50" y="466.40" font-size="6.70" fill="#5e626d" font-weight="normal" text-anchor="end" >0</text>
<rect x="872.99" y="464.00" width="15.23" height="0.00" fill="#3574c6"/>
<rect x="890.20" y="458.20" width="15.23" height="5.80" fill="#3574c6"/>
<rect x="907.41" y="451.00" width="15.23" height="13.00" fill="#3574c6"/>
<rect x="924.62" y="461.21" width="15.23" height="2.79" fill="#3574c6"/>
<rect x="941.83" y="457.61" width="15.23" height="6.39" fill="#3574c6"/>
<rect x="959.04" y="459.89" width="15.23" height="4.11" fill="#3574c6"/>
<rect x="976.25" y="448.43" width="15.23" height="15.57" fill="#3574c6"/>
<rect x="993.46" y="449.31" width="15.23" height="14.69" fill="#3574c6"/>
<rect x="1010.67" y="455.63" width="15.23" height="8.37" fill="#3574c6"/>
<rect x="1027.88" y="458.57" width="15.23" height="5.43" fill="#3574c6"/>
<rect x="1045.09" y="451.59" width="15.23" height="12.41" fill="#3574c6"/>
<rect x="1062.30" y="460.48" width="15.23" height="3.52" fill="#3574c6"/>
<rect x="1079.51" y="455.92" width="15.23" height="8.08" fill="#3574c6"/>
<rect x="1096.72" y="449.98" width="15.23" height="14.02" fill="#3574c6"/>
<rect x="1113.93" y="459.74" width="15.23" height="4.26" fill="#3574c6"/>
<rect x="1131.13" y="456.80" width="15.23" height="7.20" fill="#3574c6"/>
<rect x="1148.34" y="454.67" width="15.23" height="9.33" fill="#3574c6"/>
<rect x="1165.55" y="387.12" width="15.23" height="76.88" fill="#3574c6"/>
<rect x="1182.76" y="412.09" width="15.23" height="51.91" fill="#3574c6"/>
<rect x="1199.97" y="362.89" width="15.23" height="101.11" fill="#3574c6"/>
<rect x="1217.18" y="447.11" width="15.23" height="16.89" fill="#3574c6"/>
<rect x="1234.39" y="377.35" width="15.23" height="86.65" fill="#3574c6"/>
<rect x="1251.60" y="391.01" width="15.23" height="72.99" fill="#3574c6"/>
<rect x="1268.81" y="263.17" width="15.23" height="200.83" fill="#3574c6"/>
<rect x="1286.02" y="457.61" width="15.23" height="6.39" fill="#3574c6"/>
<rect x="1303.23" y="449.02" width="15.23" height="14.98" fill="#3574c6"/>
<rect x="1320.44" y="457.61" width="15.23" height="6.39" fill="#3574c6"/>
<rect x="1337.65" y="454.23" width="15.23" height="9.77" fill="#3574c6"/>
<rect x="1354.86" y="413.41" width="15.23" height="50.59" fill="#3574c6"/>
<rect x="1372.07" y="449.68" width="15.23" height="14.32" fill="#3574c6"/>
<rect x="1389.28" y="459.01" width="15.23" height="4.99" fill="#3574c6"/>
<text x="880.60" y="481.00" font-size="6.70" fill="#5e626d" font-weight="normal" text-anchor="middle" >7th Aug</text>
<text x="915.02" y="481.00" font-size="6.70" fill="#5e626d" font-weight="normal" text-anchor="middle" >9th Aug</text>
<text x="949.44" y="481.00" font-size="6.70" fill="#5e626d" font-weight="normal" text-anchor="middle" >11th Aug</text>
<text x="983.86" y="481.00" font-size="6.70" fill="#5e626d" font-weight="normal" text-anchor="middle" >13th Aug</text>
<text x="1018.28" y="481.00" font-size="6.70" fill="#5e626d" font-weight="normal" text-anchor="middle" >15th Aug</text>
<text x="1052.70" y="481.00" font-size="6.70" fill="#5e626d" font-weight="normal" text-anchor="middle" >17th Aug</text>
<text x="1087.12" y="481.00" font-size="6.70" fill="#5e626d" font-weight="normal" text-anchor="middle" >19th Aug</text>
<text x="1121.54" y="481.00" font-size="6.70" fill="#5e626d" font-weight="normal" text-anchor="middle" >21st Aug</text>
<text x="1155.96" y="481.00" font-size="6.70" fill="#5e626d" font-weight="normal" text-anchor="middle" >23rd Aug</text>
<text x="1190.38" y="481.00" font-size="6.70" fill="#5e626d" font-weight="normal" text-anchor="middle" >25th Aug</text>
<text x="1224.80" y="481.00" font-size="6.70" fill="#5e626d" font-weight="normal" text-anchor="middle" >27th Aug</text>
<text x="1259.22" y="481.00" font-size="6.70" fill="#5e626d" font-weight="normal" text-anchor="middle" >29th Aug</text>
<text x="1293.64" y="481.00" font-size="6.70" fill="#5e626d" font-weight="normal" text-anchor="middle" >31st Aug</text>
<text x="1328.06" y="481.00" font-size="6.70" fill="#5e626d" font-weight="normal" text-anchor="middle" >2nd Sep</text>
<text x="1362.48" y="481.00" font-size="6.70" fill="#5e626d" font-weight="normal" text-anchor="middle" >4th Sep</text>
<text x="1405.50" y="481.00" font-size="6.70" fill="#5e626d" font-weight="normal" text-anchor="end" >6th Sep</text>
<rect x="679.50" y="565.55" width="331.50" height="1.3" fill="#3d414d"/>
<text x="674.00" y="568.60" font-size="6.70" fill="#5e626d" font-weight="normal" text-anchor="end" >400K</text>
<rect x="679.50" y="616.90" width="331.50" height="1.3" fill="#3d414d"/>
<text x="674.00" y="619.95" font-size="6.70" fill="#5e626d" font-weight="normal" text-anchor="end" >300K</text>
<rect x="679.50" y="668.25" width="331.50" height="1.3" fill="#3d414d"/>
<text x="674.00" y="671.30" font-size="6.70" fill="#5e626d" font-weight="normal" text-anchor="end" >200K</text>
<rect x="679.50" y="719.60" width="331.50" height="1.3" fill="#3d414d"/>
<text x="674.00" y="722.65" font-size="6.70" fill="#5e626d" font-weight="normal" text-anchor="end" >100K</text>
<rect x="679.50" y="770.30" width="331.50" height="1.3" fill="#3d414d"/>
<text x="674.00" y="774.00" font-size="6.70" fill="#5e626d" font-weight="normal" text-anchor="end" >0</text>
<rect x="680.11" y="771.60" width="9.46" height="0.00" fill="#3f9a6b"/>
<rect x="690.81" y="767.90" width="9.46" height="3.70" fill="#3f9a6b"/>
<rect x="701.50" y="757.79" width="9.46" height="13.81" fill="#3f9a6b"/>
<rect x="712.20" y="769.19" width="9.46" height="2.41" fill="#3f9a6b"/>
<rect x="722.89" y="769.49" width="9.46" height="2.11" fill="#3f9a6b"/>
<rect x="733.58" y="769.19" width="9.46" height="2.41" fill="#3f9a6b"/>
<rect x="744.28" y="763.54" width="9.46" height="8.06" fill="#3f9a6b"/>
<rect x="754.97" y="769.19" width="9.46" height="2.41" fill="#3f9a6b"/>
<rect x="765.66" y="768.21" width="9.46" height="3.39" fill="#3f9a6b"/>
<rect x="776.36" y="768.88" width="9.46" height="2.72" fill="#3f9a6b"/>
<rect x="787.05" y="767.90" width="9.46" height="3.70" fill="#3f9a6b"/>
<rect x="797.74" y="768.88" width="9.46" height="2.72" fill="#3f9a6b"/>
<rect x="808.44" y="768.21" width="9.46" height="3.39" fill="#3f9a6b"/>
<rect x="819.13" y="758.76" width="9.46" height="12.84" fill="#3f9a6b"/>
<rect x="829.82" y="769.19" width="9.46" height="2.41" fill="#3f9a6b"/>
<rect x="840.52" y="769.85" width="9.46" height="1.75" fill="#3f9a6b"/>
<rect x="851.21" y="763.54" width="9.46" height="8.06" fill="#3f9a6b"/>
<rect x="861.91" y="761.18" width="9.46" height="10.42" fill="#3f9a6b"/>
<rect x="872.60" y="743.87" width="9.46" height="27.73" fill="#3f9a6b"/>
<rect x="883.29" y="674.04" width="9.46" height="97.56" fill="#3f9a6b"/>
<rect x="893.99" y="749.01" width="9.46" height="22.59" fill="#3f9a6b"/>
<rect x="904.68" y="738.43" width="9.46" height="33.17" fill="#3f9a6b"/>
<rect x="915.37" y="674.04" width="9.46" height="97.56" fill="#3f9a6b"/>
<rect x="926.07" y="573.90" width="9.46" height="197.70" fill="#3f9a6b"/>
<rect x="936.76" y="765.54" width="9.46" height="6.06" fill="#3f9a6b"/>
<rect x="947.45" y="743.87" width="9.46" height="27.73" fill="#3f9a6b"/>
<rect x="958.15" y="743.87" width="9.46" height="27.73" fill="#3f9a6b"/>
<rect x="968.84" y="760.92" width="9.46" height="10.68" fill="#3f9a6b"/>
<rect x="979.53" y="705.00" width="9.46" height="66.60" fill="#3f9a6b"/>
<rect x="990.23" y="739.10" width="9.46" height="32.50" fill="#3f9a6b"/>
<rect x="1000.92" y="768.52" width="9.46" height="3.08" fill="#3f9a6b"/>
<text x="706.23" y="788.90" font-size="6.70" fill="#5e626d" font-weight="normal" text-anchor="middle" >9th Aug</text>
<text x="738.31" y="788.90" font-size="6.70" fill="#5e626d" font-weight="normal" text-anchor="middle" >12th Aug</text>
<text x="770.40" y="788.90" font-size="6.70" fill="#5e626d" font-weight="normal" text-anchor="middle" >15th Aug</text>
<text x="802.48" y="788.90" font-size="6.70" fill="#5e626d" font-weight="normal" text-anchor="middle" >18th Aug</text>
<text x="834.56" y="788.90" font-size="6.70" fill="#5e626d" font-weight="normal" text-anchor="middle" >21st Aug</text>
<text x="866.64" y="788.90" font-size="6.70" fill="#5e626d" font-weight="normal" text-anchor="middle" >24th Aug</text>
<text x="898.72" y="788.90" font-size="6.70" fill="#5e626d" font-weight="normal" text-anchor="middle" >27th Aug</text>
<text x="930.80" y="788.90" font-size="6.70" fill="#5e626d" font-weight="normal" text-anchor="middle" >30th Aug</text>
<text x="962.88" y="788.90" font-size="6.70" fill="#5e626d" font-weight="normal" text-anchor="middle" >2nd Sep</text>
<text x="1011.00" y="788.90" font-size="6.70" fill="#5e626d" font-weight="normal" text-anchor="end" >6th Sep</text>
<rect x="296.00" y="565.55" width="329.00" height="1.3" fill="#3d414d"/>
<text x="291.20" y="568.60" font-size="6.70" fill="#5e626d" font-weight="normal" text-anchor="end" >600</text>
<rect x="296.00" y="616.90" width="329.00" height="1.3" fill="#3d414d"/>
<text x="291.20" y="619.95" font-size="6.70" fill="#5e626d" font-weight="normal" text-anchor="end" >450</text>
<rect x="296.00" y="668.25" width="329.00" height="1.3" fill="#3d414d"/>
<text x="291.20" y="671.30" font-size="6.70" fill="#5e626d" font-weight="normal" text-anchor="end" >300</text>
<rect x="296.00" y="719.60" width="329.00" height="1.3" fill="#3d414d"/>
<text x="291.20" y="722.65" font-size="6.70" fill="#5e626d" font-weight="normal" text-anchor="end" >150</text>
<rect x="296.00" y="770.30" width="329.00" height="1.3" fill="#3d414d"/>
<text x="291.20" y="774.00" font-size="6.70" fill="#5e626d" font-weight="normal" text-anchor="end" >0</text>
<path d="M296.00,640.14C299.66,640.37,303.31,640.60,306.97,641.51C310.62,642.43,314.28,734.42,317.93,734.42C321.59,734.42,325.24,642.65,328.90,642.20C332.56,641.74,336.21,641.97,339.87,641.51C343.52,641.06,347.18,638.09,350.83,638.09C354.49,638.09,358.14,738.39,361.80,738.39C365.46,738.39,369.11,636.04,372.77,636.04C376.42,636.04,380.08,636.04,383.73,636.04C387.39,636.04,391.04,636.38,394.70,637.06C398.36,637.75,402.01,642.20,405.67,642.20C409.32,642.20,412.98,638.77,416.63,638.77C420.29,638.77,423.94,648.82,427.60,653.84C431.26,658.86,434.91,668.90,438.57,668.90C442.22,668.90,445.88,645.51,449.53,640.49C453.19,635.47,456.84,632.96,460.50,632.96C464.16,632.96,467.81,764.00,471.47,764.21C475.12,764.41,478.78,764.31,482.43,764.51C486.09,764.72,489.74,765.51,493.40,765.51C497.06,765.51,500.71,764.28,504.37,763.90C508.02,763.52,511.68,763.21,515.33,763.21C518.99,763.21,522.64,763.21,526.30,763.21C529.96,763.21,533.61,764.26,537.27,764.51C540.92,764.76,544.58,764.89,548.23,764.89C551.89,764.89,555.54,671.30,559.20,671.30C562.86,671.30,566.51,764.21,570.17,764.21C573.82,764.21,577.48,708.95,581.13,708.95C584.79,708.95,588.44,759.81,592.10,760.88C595.76,761.96,599.41,762.49,603.07,762.49C606.72,762.49,610.38,725.12,614.03,705.87C617.69,686.62,621.34,666.81,625.00,646.99L625.00,771.60L296.00,771.60Z" fill="url(#latg)"/>
<path d="M296.00,640.14C299.66,640.37,303.31,640.60,306.97,641.51C310.62,642.43,314.28,734.42,317.93,734.42C321.59,734.42,325.24,642.65,328.90,642.20C332.56,641.74,336.21,641.97,339.87,641.51C343.52,641.06,347.18,638.09,350.83,638.09C354.49,638.09,358.14,738.39,361.80,738.39C365.46,738.39,369.11,636.04,372.77,636.04C376.42,636.04,380.08,636.04,383.73,636.04C387.39,636.04,391.04,636.38,394.70,637.06C398.36,637.75,402.01,642.20,405.67,642.20C409.32,642.20,412.98,638.77,416.63,638.77C420.29,638.77,423.94,648.82,427.60,653.84C431.26,658.86,434.91,668.90,438.57,668.90C442.22,668.90,445.88,645.51,449.53,640.49C453.19,635.47,456.84,632.96,460.50,632.96C464.16,632.96,467.81,764.00,471.47,764.21C475.12,764.41,478.78,764.31,482.43,764.51C486.09,764.72,489.74,765.51,493.40,765.51C497.06,765.51,500.71,764.28,504.37,763.90C508.02,763.52,511.68,763.21,515.33,763.21C518.99,763.21,522.64,763.21,526.30,763.21C529.96,763.21,533.61,764.26,537.27,764.51C540.92,764.76,544.58,764.89,548.23,764.89C551.89,764.89,555.54,671.30,559.20,671.30C562.86,671.30,566.51,764.21,570.17,764.21C573.82,764.21,577.48,708.95,581.13,708.95C584.79,708.95,588.44,759.81,592.10,760.88C595.76,761.96,599.41,762.49,603.07,762.49C606.72,762.49,610.38,725.12,614.03,705.87C617.69,686.62,621.34,666.81,625.00,646.99" fill="none" stroke="#e3a03f" stroke-width="1.75"/>
<text x="317.93" y="788.90" font-size="6.70" fill="#5e626d" font-weight="normal" text-anchor="middle" >9th Aug</text>
<text x="350.83" y="788.90" font-size="6.70" fill="#5e626d" font-weight="normal" text-anchor="middle" >12th Aug</text>
<text x="383.73" y="788.90" font-size="6.70" fill="#5e626d" font-weight="normal" text-anchor="middle" >15th Aug</text>
<text x="416.63" y="788.90" font-size="6.70" fill="#5e626d" font-weight="normal" text-anchor="middle" >18th Aug</text>
<text x="449.53" y="788.90" font-size="6.70" fill="#5e626d" font-weight="normal" text-anchor="middle" >21st Aug</text>
<text x="482.43" y="788.90" font-size="6.70" fill="#5e626d" font-weight="normal" text-anchor="middle" >24th Aug</text>
<text x="515.33" y="788.90" font-size="6.70" fill="#5e626d" font-weight="normal" text-anchor="middle" >27th Aug</text>
<text x="548.23" y="788.90" font-size="6.70" fill="#5e626d" font-weight="normal" text-anchor="middle" >30th Aug</text>
<text x="581.13" y="788.90" font-size="6.70" fill="#5e626d" font-weight="normal" text-anchor="middle" >2nd Sep</text>
<text x="625.00" y="788.90" font-size="6.70" fill="#5e626d" font-weight="normal" text-anchor="end" >6th Sep</text>
<rect x="1068.20" y="565.95" width="336.80" height="1.3" fill="#3d414d"/>
<text x="1062.60" y="569.00" font-size="6.70" fill="#5e626d" font-weight="normal" text-anchor="end" >12</text>
<rect x="1068.20" y="617.23" width="336.80" height="1.3" fill="#3d414d"/>
<text x="1062.60" y="620.27" font-size="6.70" fill="#5e626d" font-weight="normal" text-anchor="end" >9</text>
<rect x="1068.20" y="668.50" width="336.80" height="1.3" fill="#3d414d"/>
<text x="1062.60" y="671.55" font-size="6.70" fill="#5e626d" font-weight="normal" text-anchor="end" >6</text>
<rect x="1068.20" y="719.78" width="336.80" height="1.3" fill="#3d414d"/>
<text x="1062.60" y="722.83" font-size="6.70" fill="#5e626d" font-weight="normal" text-anchor="end" >3</text>
<rect x="1068.20" y="770.40" width="336.80" height="1.3" fill="#3d414d"/>
<text x="1062.60" y="774.10" font-size="6.70" fill="#5e626d" font-weight="normal" text-anchor="end" >0</text>
<path d="M1068.20,686.24C1071.94,686.24,1075.68,686.24,1079.43,686.24C1083.17,686.24,1086.91,669.15,1090.65,669.15C1094.40,669.15,1098.14,686.24,1101.88,686.24C1105.62,686.24,1109.36,686.24,1113.11,686.24C1116.85,686.24,1120.59,669.15,1124.33,669.15C1128.08,669.15,1131.82,669.15,1135.56,669.15C1139.30,669.15,1143.04,686.24,1146.79,686.24C1150.53,686.24,1154.27,686.24,1158.01,686.24C1161.76,686.24,1165.50,652.06,1169.24,652.06C1172.98,652.06,1176.72,686.24,1180.47,686.24C1184.21,686.24,1187.95,686.24,1191.69,686.24C1195.44,686.24,1199.18,686.24,1202.92,686.24C1206.66,686.24,1210.40,674.85,1214.15,669.15C1217.89,663.45,1221.63,652.06,1225.37,652.06C1229.12,652.06,1232.86,686.24,1236.60,686.24C1240.34,686.24,1244.08,686.24,1247.83,686.24C1251.57,686.24,1255.31,686.24,1259.05,686.24C1262.80,686.24,1266.54,686.24,1270.28,686.24C1274.02,686.24,1277.76,652.06,1281.51,652.06C1285.25,652.06,1288.99,663.45,1292.73,669.15C1296.48,674.85,1300.22,686.24,1303.96,686.24C1307.70,686.24,1311.44,669.15,1315.19,669.15C1318.93,669.15,1322.67,669.15,1326.41,669.15C1330.16,669.15,1333.90,669.15,1337.64,669.15C1341.38,669.15,1345.12,686.24,1348.87,686.24C1352.61,686.24,1356.35,617.88,1360.09,617.88C1363.84,617.88,1367.58,629.27,1371.32,634.97C1375.06,640.66,1378.80,652.06,1382.55,652.06C1386.29,652.06,1390.03,652.06,1393.77,652.06C1397.52,652.06,1401.26,660.60,1405.00,669.15L1405.00,771.70L1068.20,771.70Z" fill="url(#usrg)"/>
<path d="M1068.20,686.24C1071.94,686.24,1075.68,686.24,1079.43,686.24C1083.17,686.24,1086.91,669.15,1090.65,669.15C1094.40,669.15,1098.14,686.24,1101.88,686.24C1105.62,686.24,1109.36,686.24,1113.11,686.24C1116.85,686.24,1120.59,669.15,1124.33,669.15C1128.08,669.15,1131.82,669.15,1135.56,669.15C1139.30,669.15,1143.04,686.24,1146.79,686.24C1150.53,686.24,1154.27,686.24,1158.01,686.24C1161.76,686.24,1165.50,652.06,1169.24,652.06C1172.98,652.06,1176.72,686.24,1180.47,686.24C1184.21,686.24,1187.95,686.24,1191.69,686.24C1195.44,686.24,1199.18,686.24,1202.92,686.24C1206.66,686.24,1210.40,674.85,1214.15,669.15C1217.89,663.45,1221.63,652.06,1225.37,652.06C1229.12,652.06,1232.86,686.24,1236.60,686.24C1240.34,686.24,1244.08,686.24,1247.83,686.24C1251.57,686.24,1255.31,686.24,1259.05,686.24C1262.80,686.24,1266.54,686.24,1270.28,686.24C1274.02,686.24,1277.76,652.06,1281.51,652.06C1285.25,652.06,1288.99,663.45,1292.73,669.15C1296.48,674.85,1300.22,686.24,1303.96,686.24C1307.70,686.24,1311.44,669.15,1315.19,669.15C1318.93,669.15,1322.67,669.15,1326.41,669.15C1330.16,669.15,1333.90,669.15,1337.64,669.15C1341.38,669.15,1345.12,686.24,1348.87,686.24C1352.61,686.24,1356.35,617.88,1360.09,617.88C1363.84,617.88,1367.58,629.27,1371.32,634.97C1375.06,640.66,1378.80,652.06,1382.55,652.06C1386.29,652.06,1390.03,652.06,1393.77,652.06C1397.52,652.06,1401.26,660.60,1405.00,669.15" fill="none" stroke="#e3a03f" stroke-width="1.75"/>
<text x="1090.65" y="788.90" font-size="6.70" fill="#5e626d" font-weight="normal" text-anchor="middle" >9th Aug</text>
<text x="1124.33" y="788.90" font-size="6.70" fill="#5e626d" font-weight="normal" text-anchor="middle" >12th Aug</text>
<text x="1158.01" y="788.90" font-size="6.70" fill="#5e626d" font-weight="normal" text-anchor="middle" >15th Aug</text>
<text x="1191.69" y="788.90" font-size="6.70" fill="#5e626d" font-weight="normal" text-anchor="middle" >18th Aug</text>
<text x="1225.37" y="788.90" font-size="6.70" fill="#5e626d" font-weight="normal" text-anchor="middle" >21st Aug</text>
<text x="1259.05" y="788.90" font-size="6.70" fill="#5e626d" font-weight="normal" text-anchor="middle" >24th Aug</text>
<text x="1292.73" y="788.90" font-size="6.70" fill="#5e626d" font-weight="normal" text-anchor="middle" >27th Aug</text>
<text x="1326.41" y="788.90" font-size="6.70" fill="#5e626d" font-weight="normal" text-anchor="middle" >30th Aug</text>
<text x="1360.09" y="788.90" font-size="6.70" fill="#5e626d" font-weight="normal" text-anchor="middle" >2nd Sep</text>
<text x="1405.00" y="788.90" font-size="6.70" fill="#5e626d" font-weight="normal" text-anchor="end" >6th Sep</text></svg>
</body></html>
